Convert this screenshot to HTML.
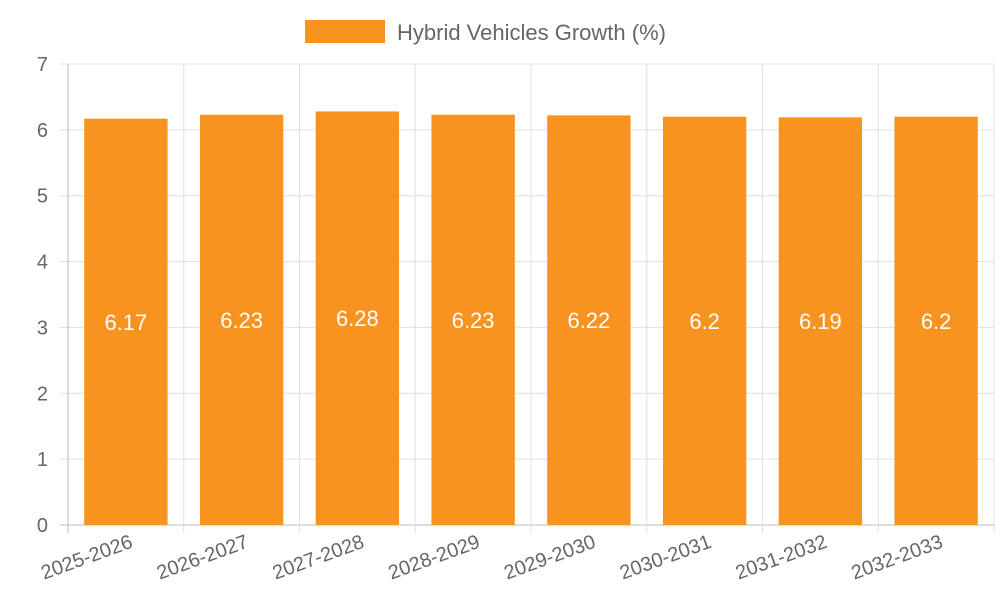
<!DOCTYPE html>
<html><head><meta charset="utf-8"><style>
html,body{margin:0;padding:0;background:#fff;}
svg{display:block;font-family:"Liberation Sans",sans-serif;}
</style></head><body>
<svg id="chart" width="1000" height="600" xmlns="http://www.w3.org/2000/svg">
<g id="legend">
<rect x="305" y="20" width="80" height="23" fill="#f7931e"/>
<text x="397" y="40" font-size="22" fill="#666">Hybrid Vehicles Growth (%)</text>
</g>
<g id="grid"></g><g id="bars"></g><g id="axes"></g>
</svg>
<script>
const categories=["2025-2026","2026-2027","2027-2028","2028-2029","2029-2030","2030-2031","2031-2032","2032-2033"];
const values=[6.17,6.23,6.28,6.23,6.22,6.2,6.19,6.2];
const valueLabels=["6.17","6.23","6.28","6.23","6.22","6.2","6.19","6.2"];
const yTicks=[0,1,2,3,4,5,6,7];
const NS="http://www.w3.org/2000/svg";
const L=68,R=994,T=64,B=525,yMax=7;
const bw=(R-L)/categories.length;
const x=i=>L+bw*i;
const y=v=>B-(v/yMax)*(B-T);
function mk(tag,attrs,parent){const e=document.createElementNS(NS,tag);for(const k in attrs)e.setAttribute(k,attrs[k]);parent.appendChild(e);return e;}
const grid=document.getElementById('grid'),bars=document.getElementById('bars'),axes=document.getElementById('axes');
yTicks.forEach(t=>{
 const g=mk('line',{x1:L-8,x2:R,y1:y(t),y2:y(t),stroke:t===0?'#bbb':'#e0e0e0','stroke-width':1},grid);
 
 
 const tx=mk('text',{x:L-20,y:y(t)+7,'text-anchor':'end','font-size':20,fill:'#666'},axes);
 tx.textContent=t;
 
 
});
for(let i=0;i<=categories.length;i++){
 const g=mk('line',{x1:x(i),x2:x(i),y1:T,y2:B+8,stroke:i===0?'#bbb':'#e0e0e0','stroke-width':1},grid);
 
 
}
categories.forEach((c,i)=>{
 const w=bw*0.72,bx=x(i)+(bw-w)/2;
 const r=mk('rect',{x:bx,y:y(values[i]),width:w,height:B-y(values[i]),fill:'#f7931e'},bars);
 
 
 const vl=mk('text',{x:bx+w/2,y:(y(values[i])+B)/2+8,'text-anchor':'middle','font-size':22,fill:'#fff'},bars);
 vl.textContent=valueLabels[i];
 
 
 const cx=x(i)+bw/2+8,cy=B+22;
 const tl=mk('text',{x:cx,y:cy,'text-anchor':'end','font-size':20,fill:'#666',transform:`rotate(-20 ${cx} ${cy})`},axes);
 tl.textContent=c;
 
 
});
</script>
</body></html>
